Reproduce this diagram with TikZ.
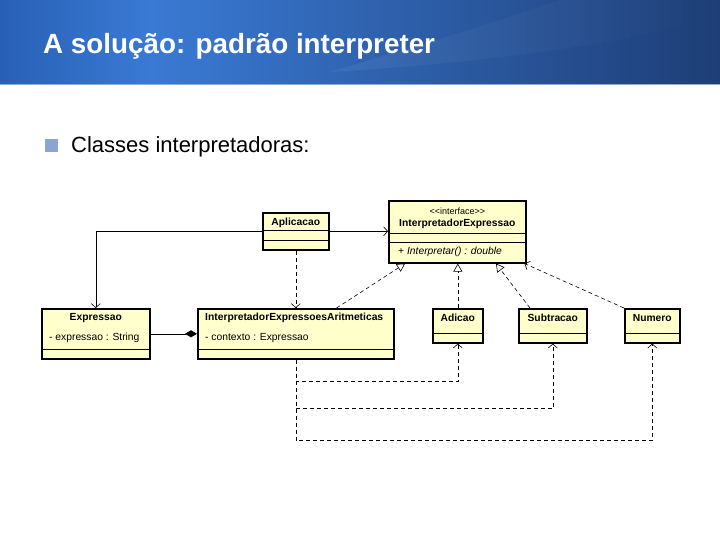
\documentclass[tikz,border=0pt]{standalone}
\usepackage{fontspec}
\setmainfont{Liberation Sans}
\usepackage{tikz}
\usetikzlibrary{calc,arrows.meta,positioning,fadings}
\definecolor{titleBlueEdge}{RGB}{40,96,182}
\definecolor{titleBlueLight}{RGB}{58,122,212}
\definecolor{titleBlueDark}{RGB}{30,62,118}
\definecolor{titleRule}{RGB}{150,172,206}
\definecolor{bulletBlue}{RGB}{138,166,208}
\definecolor{umlYellow}{RGB}{255,255,204}
\tikzset{
  umlclass/.style={draw=black, line width=1.6pt, fill=umlYellow, anchor=north west, inner sep=0pt},
  umlname/.style={font=\fontsize{10.3}{12}\selectfont\bfseries},
  umlattr/.style={font=\fontsize{10.3}{12}\selectfont, anchor=west, inner sep=0pt},
  umlsep/.style={line width=1pt},
  assoc/.style={line width=0.6pt, -{Straight Barb[length=4pt,width=9pt]}},
  dep/.style={assoc, dash pattern=on 4pt off 3pt},
  realize/.style={line width=0.6pt, dash pattern=on 4pt off 3pt, -{Triangle[open,length=8pt,width=9pt]}},
  compose/.style={line width=0.6pt, {Diamond[length=12pt,width=7pt]}-},
}

\begin{document}
\begin{tikzpicture}[x=1pt,y=-1pt]
\useasboundingbox (0,0) rectangle (720,540);
\fill[white] (0,0) rectangle (720,540);

% title band
\shade[left color=titleBlueEdge, right color=titleBlueLight] (0,0) rectangle (150,84);
\shade[left color=titleBlueLight, right color=titleBlueDark] (150,0) rectangle (720,84);
\fill[white, opacity=0.06, path fading=east] (330,72) .. controls (500,62) and (650,40) .. (720,14) -- (720,0) -- (560,0) .. controls (470,30) .. (330,72);
\draw[titleRule, line width=1.5pt] (0,84.5) -- (720,84.5);
\node[anchor=base west, text=white, inner sep=0pt, font=\fontsize{27.8}{30}\selectfont\bfseries] (title) at (43,54) {A solução: padrão interpreter};

\node[fill=bulletBlue, minimum size=13pt, inner sep=0pt] (bullet) at (51,145.5) {};
\node[anchor=base west, inner sep=0pt, font=\fontsize{22}{26}\selectfont] (bulletText) at (71,153) {Classes interpretadoras:};

% classes
\node[umlclass, minimum width=66pt, minimum height=37pt] (aplicacao) at (262,212) {};
\draw[umlsep] ($(aplicacao.north west)+(0,19)$) -- ($(aplicacao.north east)+(0,19)$);
\draw[umlsep] ($(aplicacao.north west)+(0,28)$) -- ($(aplicacao.north east)+(0,28)$);
\node[umlname] (aplicacaoName) at ($(aplicacao.north)+(0,11)$) {Aplicacao};

\node[umlclass, minimum width=137pt, minimum height=62pt] (interface) at (388,200) {};
\draw[umlsep] ($(interface.north west)+(0,33)$) -- ($(interface.north east)+(0,33)$);
\draw[umlsep] ($(interface.north west)+(0,42)$) -- ($(interface.north east)+(0,42)$);
\node[font=\fontsize{9}{10}\selectfont, inner sep=0pt] (interfaceStereo) at ($(interface.north)+(0,11)$) {<\kern0pt<\kern0pt interface>\kern0pt>};
\node[umlname, inner sep=0pt] (interfaceName) at ($(interface.north)+(0,24)$) {InterpretadorExpressao};
\node[umlattr] (interfaceOp) at ($(interface.north west)+(10,52)$) {+ \textit{Interpretar() : double}};

\node[umlclass, minimum width=108pt, minimum height=50pt] (expressao) at (41,308) {};
\draw[umlsep] ($(expressao.north west)+(0,41)$) -- ($(expressao.north east)+(0,41)$);
\node[umlname, inner sep=0pt] (expressaoName) at ($(expressao.north)+(0,10)$) {Expressao};
\node[umlattr] (expressaoAttr) at ($(expressao.north west)+(8,30)$) {- expressao : String};

\node[umlclass, minimum width=196pt, minimum height=50pt] (iea) at (197,308) {};
\draw[umlsep] ($(iea.north west)+(0,41)$) -- ($(iea.north east)+(0,41)$);
\node[umlattr, font=\fontsize{10.3}{12}\selectfont\bfseries] (ieaName) at ($(iea.north west)+(8,10)$) {InterpretadorExpressoesAritmeticas};
\node[umlattr] (ieaAttr) at ($(iea.north west)+(8,30)$) {- contexto : Expressao};

\node[umlclass, minimum width=50pt, minimum height=34pt] (adicao) at (432,308) {};
\draw[umlsep] ($(adicao.north west)+(0,25)$) -- ($(adicao.north east)+(0,25)$);
\node[umlname, inner sep=0pt] (adicaoName) at ($(adicao.north)+(0,10)$) {Adicao};

\node[umlclass, minimum width=68pt, minimum height=34pt] (subtracao) at (518,308) {};
\draw[umlsep] ($(subtracao.north west)+(0,25)$) -- ($(subtracao.north east)+(0,25)$);
\node[umlname, inner sep=0pt] (subtracaoName) at ($(subtracao.north)+(0,10)$) {Subtracao};

\node[umlclass, minimum width=55pt, minimum height=34pt] (numero) at (624,308) {};
\draw[umlsep] ($(numero.north west)+(0,25)$) -- ($(numero.north east)+(0,25)$);
\node[umlname, inner sep=0pt] (numeroName) at ($(numero.north)+(0,10)$) {Numero};

% relations
\draw[assoc] (aplicacao.east) -- (aplicacao.east -| interface.west);
\draw[assoc] (aplicacao.west) -| (expressao.north);
\draw[dep] (aplicacao.south) -- (aplicacao.south |- iea.north);
\draw[compose] (iea.west) -- (iea.west -| expressao.east);

\draw[realize] ($(iea.north east)+(-58,0)$) -- ($(interface.south west)+(17,0)$);
\draw[realize] (adicao.north) -- (adicao.north |- interface.south);
\draw[realize] ($(subtracao.north west)+(12,0)$) -- ($(interface.south west)+(108,0)$);
\draw[dep] (numero.north west) -- ($(interface.south east)+(-2,0)$);

\draw[dep] (iea.south) |- ($(adicao.south)+(0,38)$) -- (adicao.south);
\draw[dep] (iea.south) |- ($(subtracao.south)+(0,65)$) -- (subtracao.south);
\draw[dep] (iea.south) |- ($(numero.south)+(0,97)$) -- (numero.south);
\end{tikzpicture}
\end{document}
